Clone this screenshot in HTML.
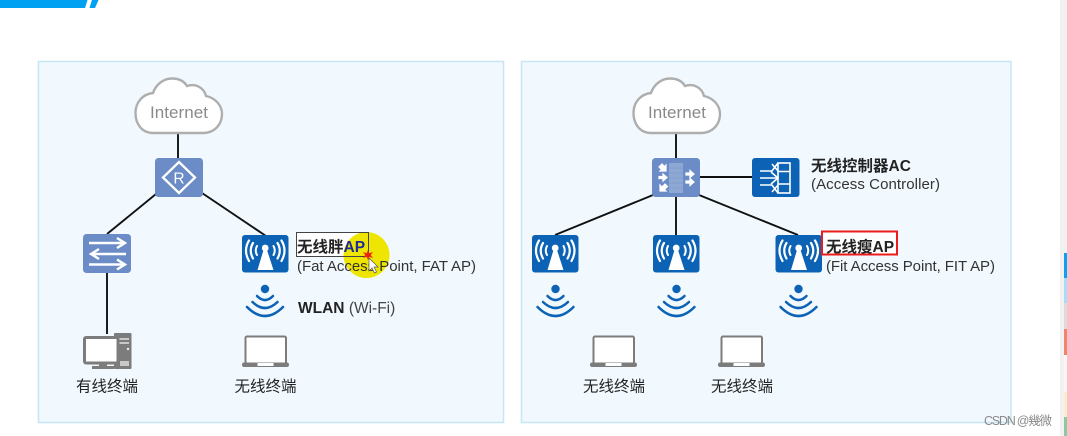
<!DOCTYPE html>
<html><head><meta charset="utf-8"><style>
html,body{margin:0;padding:0;background:#fff;width:1067px;height:436px;overflow:hidden}
svg{display:block}
text{font-family:"Liberation Sans","Noto Sans CJK SC",sans-serif;fill:#222}
</style></head><body>
<svg width="1067" height="436" viewBox="0 0 1067 436" xmlns="http://www.w3.org/2000/svg">
<defs>
<g id="cloud"><path d="M153 133C142 133 135.500 124 135.500 113C135.500 102 143 94 153 93C156 84 164 78.500 172 78.500C179 78.500 184 81 187 86C196 83 204 88 206 96C215 98 222 105 222 114C222 125 214 133 203 133Z" fill="#fff" stroke="#aeaeae" stroke-width="2.400"/></g>
<g id="ap">
<rect x="0" y="0" width="46.500" height="37.500" rx="3" fill="#0c62b4"/>
<g fill="none" stroke="#fff" stroke-linecap="round">
<path d="M7 5.500Q1 15.500 7 26" stroke-width="2.200"/><path d="M11 8Q6.500 15.500 11 23.500" stroke-width="2.200"/><path d="M15 11Q12.500 15.500 15 20" stroke-width="2"/>
<path d="M39.500 5.500Q45.500 15.500 39.500 26" stroke-width="2.200"/><path d="M35.500 8Q40 15.500 35.500 23.500" stroke-width="2.200"/><path d="M31.500 11Q34 15.500 31.500 20" stroke-width="2"/>
</g>
<circle cx="23.200" cy="13" r="3.400" fill="#fff"/>
<path d="M21.500 15H25L31.500 35H15.500Z" fill="#fff"/>
</g>
<g id="wifi">
<circle cx="0" cy="0" r="4.200" fill="#0c62b4"/>
<g fill="none" stroke="#0c62b4" stroke-width="2.500" stroke-linecap="round">
<path d="M-8 7Q0 15 8 7"/><path d="M-12.500 13Q0 25 12.500 13"/><path d="M-18 18Q0 36 18 18"/>
</g>
</g>
<g id="laptop">
<rect x="3.500" y="1.500" width="40.500" height="27" rx="1.500" fill="#fff" stroke="#7c7c7c" stroke-width="2"/>
<path d="M2 27.500H45Q47 27.500 47 29.800Q47 32 45 32H2Q0 32 0 29.800Q0 27.500 2 27.500Z" fill="#7c7c7c"/>
<rect x="15.500" y="28" width="16" height="3" fill="#fff"/>
</g>
</defs>

<path d="M0 0H87.500L85 8H0Z" fill="#00a0f2"/>
<path d="M92 0H98.500L95 8H89.500Z" fill="#00a0f2"/>

<rect x="38.500" y="61.500" width="465" height="361" fill="#f1f9fe" stroke="#c6e6f6" stroke-width="1.500"/>
<rect x="521.500" y="61.500" width="489.500" height="361" fill="#f1f9fe" stroke="#c6e6f6" stroke-width="1.500"/>

<g stroke="#111" stroke-width="1.900" fill="none">
<path d="M178 133V158"/><path d="M156 194L107 234"/><path d="M202 193L266 236"/><path d="M107 273V334"/>
<path d="M676 133V158"/><path d="M700 177H752"/><path d="M653 195L555 235"/><path d="M676 197V235"/><path d="M699 195L798 235"/>
</g>

<use href="#cloud"/>
<text x="179" y="118" font-size="17" text-anchor="middle" style="fill:#8a8a8a" textLength="58">Internet</text>
<use href="#cloud" x="498"/>
<text x="677" y="118" font-size="17" text-anchor="middle" style="fill:#8a8a8a" textLength="58">Internet</text>

<rect x="155" y="158" width="48" height="39" rx="3.500" fill="#6b8cc6"/>
<path d="M179 162L195 177.500L179 193L163 177.500Z" fill="none" stroke="#fff" stroke-width="2.300"/>
<text x="179" y="183.500" font-size="15.500" text-anchor="middle" style="fill:#fff">R</text>

<rect x="83" y="234" width="48" height="39" rx="3.500" fill="#6b8cc6"/>
<g fill="none" stroke="#fff" stroke-width="2.400">
<path d="M89 243H124M117 238L125 243L117 248"/>
<path d="M126 254H92M99 249L91 254L99 259"/>
<path d="M89 264.500H124M117 259.500L125 264.500L117 269.500"/>
</g>

<rect x="652" y="158" width="48" height="39" rx="3.500" fill="#6b8cc6"/>
<rect x="669" y="163" width="14" height="30" fill="#8ea8d4"/>
<g stroke="#7d9acb" stroke-width=".8"><path d="M669 168H683M669 173H683M669 178H683M669 183H683M669 188H683"/></g>
<g fill="#fff" stroke="#fff" stroke-width="1.200">
<path d="M660 165L666 165L666 171L664.500 169.500L662 172L659 169L661.500 166.500Z" transform="rotate(90 663 168)"/>
<path d="M659 176.500H663V174L667 177.500L663 181V178.500H659Z"/>
<path d="M660 191V185L662 187L665 184L667.500 186.500L664.500 189.500L666 191Z"/>
<path d="M686 173H690V170.500L694 174L690 177.500V175H686Z"/>
<path d="M686 181H690V178.500L694 182L690 185.500V183H686Z"/>
</g>

<rect x="752" y="158" width="47.500" height="39" rx="3" fill="#0c62b4"/>
<g fill="none" stroke="#fff" stroke-width="1.600">
<rect x="778" y="163" width="12" height="30"/>
<path d="M778 171.500H790M778 184H790"/>
<path d="M760 171H772L778 163M772 164L778 171"/>
<path d="M760 178H778M771 172L778 178L771 184"/>
<path d="M760 185H772L778 193M772 192L778 185"/>
</g>

<use href="#ap" x="242" y="235"/>
<use href="#ap" x="532" y="235"/>
<use href="#ap" x="653" y="235"/>
<use href="#ap" x="775.500" y="235"/>
<use href="#wifi" x="265" y="289"/>
<use href="#wifi" x="555.500" y="289"/>
<use href="#wifi" x="676.500" y="289"/>
<use href="#wifi" x="798.500" y="289"/>

<g>
<rect x="114" y="333" width="17.500" height="36" rx="1" fill="#7c7c7c"/>
<g fill="#c8c8c8"><rect x="119" y="338" width="10" height="2"/><rect x="119" y="342" width="10" height="2"/><rect x="120" y="361" width="9" height="5"/></g>
<circle cx="128" cy="349" r="1.200" fill="#eee"/>
<rect x="84.500" y="337.500" width="33.500" height="25.500" rx="1.500" fill="#fff" stroke="#7c7c7c" stroke-width="3"/>
<rect x="92" y="366" width="22" height="3" fill="#7c7c7c"/>
<rect x="99" y="363" width="8" height="3" fill="#7c7c7c"/>
</g>

<use href="#laptop" x="242" y="335"/>
<use href="#laptop" x="590" y="335"/>
<use href="#laptop" x="718" y="335"/>

<g font-size="15.500" text-anchor="middle">
<text x="107" y="391.500">有线终端</text>
<text x="265.500" y="391.500">无线终端</text>
<text x="614" y="391.500">无线终端</text>
<text x="742" y="391.500">无线终端</text>
</g>

<rect x="296.500" y="232.500" width="72" height="24" fill="#fff" stroke="#333" stroke-width="1"/>
<circle cx="366.500" cy="255" r="23" fill="#eee600"/>
<path d="M296.500 232.500H368.500V256.500H296.500Z" fill="none" stroke="#444"/>
<text x="297" y="252" font-size="15.500" font-weight="700">无线胖<tspan style="fill:#1c2a9c">AP</tspan></text>
<text x="297" y="271" font-size="15" textLength="179" lengthAdjust="spacing" style="fill:#333">(Fat Access Point, FAT AP)</text>
<text x="298" y="313" font-size="15.500"><tspan font-weight="700">WLAN</tspan> <tspan style="fill:#444">(Wi-Fi)</tspan></text>
<path d="M368 250L369.300 253.200L373 252L370.700 255L373 258L369.300 256.800L368 260L366.700 256.800L363 258L365.300 255L363 252L366.700 253.200Z" fill="#f02010"/>
<path d="M369 258V271L372 268L374.500 273L376.500 272L374 267H378Z" fill="#fff" stroke="#555" stroke-width=".7"/>

<text x="811" y="171" font-size="15.500" font-weight="700">无线控制器AC</text>
<text x="811" y="189" font-size="15" textLength="129" lengthAdjust="spacing" style="fill:#333">(Access Controller)</text>

<rect x="822" y="231.500" width="75" height="23" fill="#fff" stroke="#ec1c1c" stroke-width="2"/>
<text x="826" y="252" font-size="15.500" font-weight="700">无线瘦AP</text>
<text x="826" y="271" font-size="15" textLength="169" lengthAdjust="spacing" style="fill:#333">(Fit Access Point, FIT AP)</text>

<rect x="1060" y="0" width="7" height="436" fill="#f1f1f1"/>
<rect x="1064" y="253" width="3" height="25" fill="#0ea0ee"/>
<rect x="1064" y="278" width="3" height="25" fill="#a8dcf8"/>
<rect x="1064" y="303" width="3" height="26" fill="#dcdcdc"/>
<rect x="1064" y="329" width="3" height="26" fill="#f0846c"/>
<rect x="1064" y="355" width="3" height="37" fill="#f6f6f6"/>
<rect x="1064" y="392" width="3" height="25" fill="#fbeccb"/>
<rect x="1064" y="417" width="3" height="19" fill="#8cc8a0"/>

<text x="984" y="425" font-size="12.500" textLength="68" style="fill:#8a8a8a">CSDN @幾微</text>
</svg>
</body></html>
